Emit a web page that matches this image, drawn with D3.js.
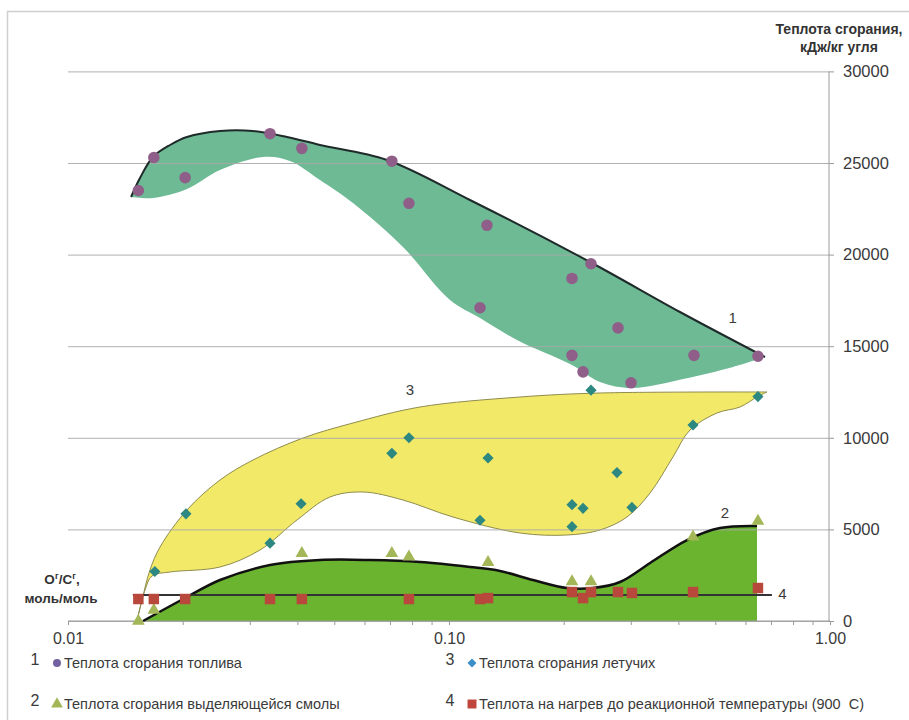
<!DOCTYPE html>
<html>
<head>
<meta charset="utf-8">
<script src="https://cdn.jsdelivr.net/npm/d3@7"></script>
<style>
  html, body { margin: 0; padding: 0; background: #fff; }
  svg { display: block; font-family: "Liberation Sans", Arial, sans-serif; }
</style>
</head>
<body>
<svg id="chart" width="909" height="720"></svg>
<script>
// O/C ratio (mol/mol) and heat values (kJ/kg coal)

// 1 — heat of combustion of the fuel
const fuelX = [0.0153, 0.0168, 0.0203, 0.0339, 0.0411, 0.0708, 0.0785, 0.1206, 0.1258, 0.2103, 0.2103, 0.2248, 0.2359, 0.2777, 0.3004, 0.4395, 0.647];
const fuelQ = [23500, 25300, 24200, 26600, 25800, 25100, 22800, 17100, 21600, 18700, 14500, 13600, 19500, 16000, 13000, 14500, 14450];

// 3 — heat of combustion of volatiles
const volX = [0.0169, 0.0204, 0.0339, 0.0409, 0.0708, 0.0785, 0.1206, 0.1266, 0.2103, 0.2103, 0.2248, 0.2359, 0.2760, 0.3021, 0.4370, 0.647];
const volQ = [2700, 5850, 4250, 6400, 9150, 10000, 5500, 8900, 6350, 5150, 6150, 12600, 8100, 6200, 10700, 12250];

// 2 — heat of combustion of released tar
const tarX = [0.0153, 0.0168, 0.0411, 0.0708, 0.0785, 0.1266, 0.2103, 0.2359, 0.4370, 0.647];
const tarQ = [0, 600, 3700, 3700, 3500, 3200, 2150, 2150, 4600, 5450];

// 4 — heat for heating to reaction temperature
const heatX = [0.0153, 0.0168, 0.0203, 0.0339, 0.0411, 0.0785, 0.1206, 0.1266, 0.2103, 0.2248, 0.2359, 0.2777, 0.3021, 0.4370, 0.647];
const heatQ = [1200, 1200, 1200, 1200, 1200, 1200, 1200, 1250, 1580, 1250, 1580, 1580, 1530, 1580, 1800];
const heatLevel = 1420;
const heatLineX = [0.0148, 0.704];

// band of fuel heat (upper trend line and lower edge)
const band1UpperX = [0.01464, 0.01545, 0.01671, 0.01853, 0.02052, 0.02506, 0.03059, 0.03756, 0.04585, 0.06875, 0.1135, 0.2345, 0.4038, 0.6752];
const band1UpperQ = [23144, 24181, 25328, 25983, 26419, 26747, 26747, 26419, 25983, 25164, 22980, 19596, 16867, 14410];
const band1LowerX = [0.01464, 0.01671, 0.02052, 0.02506, 0.03249, 0.03825, 0.04585, 0.05598, 0.07571, 0.1006, 0.1206, 0.1508, 0.2103, 0.2490, 0.3021, 0.4115, 0.5565, 0.6752];
const band1LowerQ = [23144, 23090, 23581, 24618, 25328, 25109, 24072, 22817, 20415, 17522, 16539, 15338, 13974, 13046, 12718, 13210, 13865, 14410];

// band of volatiles heat
const band3UpperX = [0.01517, 0.01564, 0.01641, 0.01744, 0.02052, 0.02506, 0.03059, 0.04139, 0.05598, 0.08393, 0.1536, 0.2490, 0.6832];
const band3UpperQ = [0, 1146, 2784, 4039, 6059, 7697, 8788, 9989, 10808, 11681, 12227, 12445, 12500];
const band3LowerX = [0.01517, 0.01593, 0.01661, 0.01853, 0.02506, 0.03191, 0.03990, 0.04871, 0.05948, 0.07571, 0.1024, 0.1536, 0.2040, 0.2490, 0.2932, 0.3371, 0.3871, 0.4291, 0.5050, 0.5804, 0.6433, 0.6832];
const band3LowerQ = [0, 1692, 2456, 2675, 2948, 3876, 5513, 6769, 7041, 6605, 5677, 4803, 4694, 4967, 5677, 6987, 8952, 10426, 11354, 11681, 12227, 12500];

// tar trend line (area below it)
const tarCurveX = [0.01574, 0.02052, 0.02506, 0.0339, 0.04585, 0.06205, 0.08393, 0.1135, 0.1361, 0.1662, 0.2040, 0.2388, 0.2811, 0.3371, 0.4215, 0.5143, 0.6433];
const tarCurveQ = [0, 1310, 2238, 3057, 3330, 3330, 3221, 2948, 2730, 2238, 1801, 1801, 2129, 3166, 4421, 5076, 5186];

// axis ticks
const xMajorTicks = [0.01, 0.1, 1];
const xMinorTicks = [0.02, 0.03, 0.04, 0.05, 0.06, 0.07, 0.08, 0.09, 0.2, 0.3, 0.4, 0.5, 0.6, 0.7, 0.8, 0.9];
const yTicks = [0, 5000, 10000, 15000, 20000, 25000, 30000];

// curve numbers placed at data coordinates
const curveLabels = ["1", "2", "3", "4"];
const curveLabelX = [0.555, 0.53, 0.079, 0.75];
const curveLabelQ = [16540, 5900, 12600, 1470];

// legend, in reading order (two columns, two rows)
const legendNums = ["1", "3", "2", "4"];
const legendTexts = [
  "Теплота сгорания топлива",
  "Теплота сгорания летучих",
  "Теплота сгорания выделяющейся смолы",
  "Теплота на нагрев до реакционной температуры (900\u00a0\u00a0С)"
];

const yTitle = ["Теплота сгорания,", "кДж/кг угля"];
const xTitle = ["моль/моль"];

// ---------- drawing ----------
const svg = d3.select("#chart");
const plotLeft = 68, plotRight = 830, plotTop = 71.4, plotBottom = 621;

const x = d3.scaleLog().domain([0.01, 1]).range([plotLeft, plotRight]);
const y = d3.scaleLinear().domain([0, 30000]).range([plotBottom, plotTop]);

const zip = (xs, ys) => xs.map((v, i) => [v, ys[i]]);
const line = d3.line().x(d => x(d[0])).y(d => y(d[1])).curve(d3.curveCatmullRom.alpha(0.5));

const colors = {
  band1: "#6dba95",
  band3: "#f2e968",
  band3Edge: "#8f8c4e",
  band2: "#6bb42f",
  fuel: "#8f5f8a",
  vol: "#2c8880",
  volLegend: "#3c8ec6",
  tar: "#a3b758",
  heat: "#b8483b",
  grid: "#a8a8a8",
  axis: "#9a9a9a",
  text: "#3a3a3a"
};

// frame
svg.append("rect")
  .attr("x", 7.5).attr("y", 11.5).attr("width", 920).attr("height", 730)
  .attr("fill", "none").attr("stroke", "#cfcfcf").attr("stroke-width", 1.5);

// closed band path from an upper and a lower edge
function bandPath(ux, uq, lx, lq) {
  const up = line(zip(ux, uq));
  const lo = line(zip(lx, lq).reverse());
  return up + "L" + lo.slice(1) + "Z";
}

const gFill = svg.append("g");

// band 1
gFill.append("path")
  .attr("d", bandPath(band1UpperX, band1UpperQ, band1LowerX, band1LowerQ))
  .attr("fill", colors.band1);

// band 3
gFill.append("path")
  .attr("d", bandPath(band3UpperX, band3UpperQ, band3LowerX, band3LowerQ))
  .attr("fill", colors.band3)
  .attr("stroke", colors.band3Edge).attr("stroke-width", 1);

// tar area
const tarPts = zip(tarCurveX, tarCurveQ);
const tarArea = d3.area().x(d => x(d[0])).y0(y(0)).y1(d => y(d[1])).curve(d3.curveCatmullRom.alpha(0.5));
gFill.append("path").attr("d", tarArea(tarPts)).attr("fill", colors.band2);

// gridlines
const grid = svg.append("g").attr("transform", `translate(${plotRight - 1},0)`)
  .call(d3.axisLeft(y).tickValues(yTicks).tickSize(plotRight - 1 - plotLeft).tickFormat(""));
grid.select(".domain").remove();
grid.selectAll(".tick line").attr("stroke", colors.grid).attr("stroke-width", 1).attr("opacity", 0.9);

// y axis (right side)
const yAxis = svg.append("g").attr("transform", `translate(${plotRight - 1},0)`)
  .call(d3.axisRight(y).tickValues(yTicks).tickSize(5).tickPadding(9).tickFormat(d3.format("d")));
yAxis.select(".domain").attr("stroke", colors.axis).attr("d", `M0,${plotTop}V${plotBottom}`);
yAxis.selectAll(".tick line").attr("stroke", colors.axis);
yAxis.selectAll(".tick text").attr("fill", colors.text).attr("font-size", 16.5)
  .attr("font-family", "'Liberation Sans', Arial, sans-serif");

// x axis
const xAxis = svg.append("g").attr("transform", `translate(0,${plotBottom})`)
  .call(d3.axisBottom(x).tickValues(xMajorTicks.concat(xMinorTicks)).tickSize(4).tickPadding(8)
    .tickFormat(d => xMajorTicks.includes(d) ? d3.format(".2f")(d) : ""));
xAxis.select(".domain").attr("stroke", colors.axis).attr("d", `M${plotLeft},0H${plotRight}`);
xAxis.selectAll(".tick line").attr("stroke", colors.axis);
xAxis.selectAll(".tick text").attr("fill", colors.text).attr("font-size", 16)
  .attr("font-family", "'Liberation Sans', Arial, sans-serif");

// trend lines
svg.append("path").attr("d", line(zip(band1UpperX, band1UpperQ)))
  .attr("fill", "none").attr("stroke", "#1f2a2a").attr("stroke-width", 2);
svg.append("path").attr("d", line(tarPts))
  .attr("fill", "none").attr("stroke", "#111").attr("stroke-width", 2.5);
svg.append("line")
  .attr("x1", x(heatLineX[0])).attr("x2", x(heatLineX[1]))
  .attr("y1", y(heatLevel)).attr("y2", y(heatLevel))
  .attr("stroke", "#333").attr("stroke-width", 2);

// point markers
const sym = (type, size) => d3.symbol().type(type).size(size)();
const markerShape = {
  circle: s => sym(d3.symbolCircle, s),
  diamond: s => sym(d3.symbolSquare, s),   // square turned 45°
  triangle: s => sym(d3.symbolTriangle, s),
  square: s => sym(d3.symbolSquare, s)
};
const markerTurn = { circle: 0, diamond: 45, triangle: 0, square: 0 };

function drawPoints(xs, qs, kind, size, fill) {
  svg.append("g").selectAll("path").data(zip(xs, qs)).join("path")
    .attr("transform", d => `translate(${x(d[0])},${y(d[1])}) rotate(${markerTurn[kind]})`)
    .attr("d", markerShape[kind](size))
    .attr("fill", fill);
}
drawPoints(tarX, tarQ, "triangle", 70, colors.tar);
drawPoints(heatX, heatQ, "square", 110, colors.heat);
drawPoints(volX, volQ, "diamond", 62, colors.vol);
drawPoints(fuelX, fuelQ, "circle", 105, colors.fuel);

// curve numbers
svg.append("g").selectAll("text").data(curveLabels).join("text")
  .attr("x", (d, i) => x(curveLabelX[i])).attr("y", (d, i) => y(curveLabelQ[i]))
  .attr("dy", "0.35em").attr("text-anchor", "middle")
  .attr("font-size", 15).attr("fill", colors.text).text(d => d);

// axis titles
const yt = svg.append("text").attr("text-anchor", "middle").attr("font-size", 14)
  .attr("font-weight", "bold").attr("fill", "#333");
yTitle.forEach((t, i) => yt.append("tspan").attr("x", 839).attr("y", 34 + i * 18).text(t));

const xt = svg.append("text").attr("text-anchor", "middle").attr("font-size", 13.5)
  .attr("font-weight", "bold").attr("fill", "#333");
const xt1 = xt.append("tspan").attr("x", 62).attr("y", 584);
xt1.append("tspan").text("O");
xt1.append("tspan").attr("font-size", 9).attr("dy", -5).text("г");
xt1.append("tspan").attr("dy", 5).text("/C");
xt1.append("tspan").attr("font-size", 9).attr("dy", -5).text("г");
xt1.append("tspan").attr("dy", 5).text(",");
xt.append("tspan").attr("x", 61).attr("y", 603).text(xTitle[0]);

// legend
const legendPos = [[35, 663], [450, 663], [35, 704], [450, 704]];
const legendSym = [
  ["circle", 50, "#7262a0"],
  ["diamond", 40, colors.volLegend],
  ["triangle", 60, colors.tar],
  ["square", 80, "#c0453a"]
];
const lg = svg.append("g");
legendNums.forEach((n, k) => {
  const [lx, ly] = legendPos[k];
  const [kind, size, fill] = legendSym[k];
  lg.append("text").attr("x", lx).attr("y", ly + 2).attr("text-anchor", "middle")
    .attr("font-size", 16).attr("fill", colors.text).text(n);
  lg.append("path").attr("transform", `translate(${lx + 22},${ly}) rotate(${markerTurn[kind]})`)
    .attr("d", markerShape[kind](size)).attr("fill", fill);
  lg.append("text").attr("x", lx + 29).attr("y", ly).attr("dy", "0.35em")
    .attr("font-size", 14.5).attr("fill", colors.text).text(legendTexts[k]);
});
</script>
</body>
</html>
